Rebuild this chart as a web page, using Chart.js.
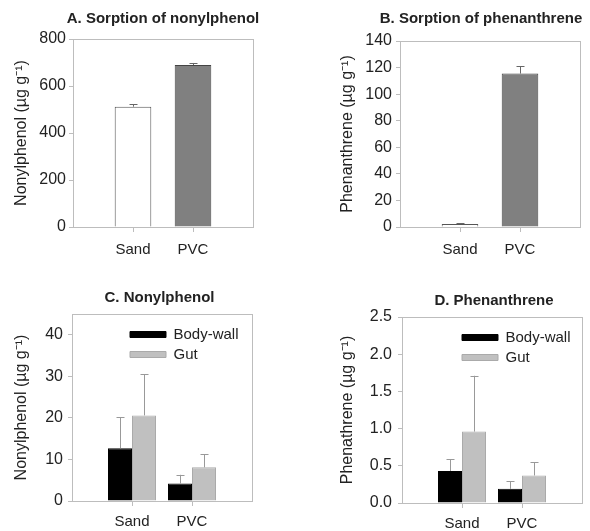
<!DOCTYPE html>
<html>
<head>
<meta charset="utf-8">
<script src="https://cdn.jsdelivr.net/npm/chart.js@4.4.1/dist/chart.umd.min.js"></script>
<style>
    html, body { margin: 0; padding: 0; background: #fff; }
    #wrap { position: relative; width: 590px; height: 531px; overflow: hidden; }
    #wrap canvas { position: absolute; }
</style>
</head>
<body>
<div id="wrap">
    <canvas id="chartA" width="326" height="265" style="left:0px;top:0px"></canvas>
    <canvas id="chartB" width="302" height="265" style="left:330px;top:0px"></canvas>
    <canvas id="chartC" width="319" height="266" style="left:0px;top:265px"></canvas>
    <canvas id="chartD" width="328" height="266" style="left:330px;top:265px"></canvas>
</div>
<script>
// data
const categories = ['Sand', 'PVC'];

const sorptionNP = [512, 689];
const sorptionNPErr = [10, 9];
const sorptionPHE = [2.2, 115.5];
const sorptionPHEErr = [0.6, 5.6];

const npBodyWall = [12.7, 4.2];
const npBodyWallErr = [7.4, 2.1];
const npGut = [20.6, 8.1];
const npGutErr = [9.9, 3.1];

const pheBodyWall = [0.43, 0.19];
const pheBodyWallErr = [0.16, 0.10];
const pheGut = [0.96, 0.37];
const pheGutErr = [0.75, 0.18];

const ticksA = [0, 200, 400, 600, 800];
const ticksB = [0, 20, 40, 60, 80, 100, 120, 140];
const ticksC = [0, 10, 20, 30, 40];
const ticksD = [0, 0.5, 1.0, 1.5, 2.0, 2.5];

const FONT = '"Liberation Sans", Arial, Helvetica, sans-serif';
const AXIS_GREY = '#bdbdbd';
const TEXT = '#222';

// empty slot on each side puts the two groups at 1/3 and 2/3 of the frame
const pad = arr => [null, ...arr, null];
const xLabels = ['', ...categories, ''];

// frame around the plot area
const framePlugin = {
    id: 'frame',
    afterDraw(chart) {
        const a = chart.chartArea, ctx = chart.ctx;
        ctx.save();
        ctx.strokeStyle = AXIS_GREY;
        ctx.lineWidth = 1;
        ctx.strokeRect(Math.round(a.left) + 0.5, Math.round(a.top) + 0.5,
            Math.round(a.right - a.left), Math.round(a.bottom - a.top));
        ctx.restore();
    }
};

// upward error bars with a cap
const errorBarPlugin = {
    id: 'errorBars',
    afterDatasetsDraw(chart, args, opts) {
        const ctx = chart.ctx, yScale = chart.scales.y;
        chart.data.datasets.forEach((ds, di) => {
            if (!ds.errors) return;
            const meta = chart.getDatasetMeta(di);
            meta.data.forEach((bar, i) => {
                const v = ds.data[i];
                if (v === null || v === undefined) return;
                const x = Math.round(bar.x) + 0.5;
                const yTop = yScale.getPixelForValue(v + ds.errors[i]);
                ctx.save();
                ctx.strokeStyle = opts.color;
                ctx.lineWidth = 1;
                ctx.beginPath();
                ctx.moveTo(x, bar.y);
                ctx.lineTo(x, yTop);
                ctx.moveTo(x - 4, Math.round(yTop) + 0.5);
                ctx.lineTo(x + 4, Math.round(yTop) + 0.5);
                ctx.stroke();
                ctx.restore();
            });
        });
    }
};

// move the in-frame legend to the upper right
const legendPlacePlugin = {
    id: 'legendPlace',
    afterLayout(chart, args, opts) {
        if (!chart.legend || !opts.dx) return;
        chart.legend.left = chart.chartArea.left + opts.dx;
        chart.legend.top = chart.chartArea.top + opts.dy;
    }
};

function makeChart(id, p) {
    return new Chart(document.getElementById(id), {
        type: 'bar',
        data: { labels: xLabels, datasets: p.datasets },
        options: {
            responsive: false,
            animation: false,
            layout: { padding: 0 },
            datasets: { bar: { categoryPercentage: p.catPct, barPercentage: p.barPct, borderWidth: 1 } },
            plugins: {
                title: {
                    display: true, text: p.title, color: TEXT,
                    font: { family: FONT, size: 15, weight: 'bold' },
                    padding: { top: p.titleTop, bottom: p.titleBottom }
                },
                legend: p.legend ? {
                    display: true, position: 'chartArea', align: 'start',
                    labels: {
                        boxWidth: 36, boxHeight: 6, padding: 5, color: TEXT,
                        font: { family: FONT, size: 15 }
                    }
                } : { display: false },
                tooltip: { enabled: false },
                errorBars: { color: p.errColor },
                legendPlace: { dx: p.legendDx, dy: p.legendDy }
            },
            scales: {
                x: {
                    offset: false,
                    grid: {
                        display: true, offset: false, drawOnChartArea: false, drawTicks: true, tickLength: 5,
                        tickColor: c => (c.tick && c.tick.label) ? AXIS_GREY : 'rgba(0,0,0,0)'
                    },
                    border: { display: true, color: AXIS_GREY },
                    ticks: {
                        autoSkip: false, maxRotation: 0, padding: p.xPad, color: TEXT,
                        font: { family: FONT, size: 15 }
                    },
                    afterFit: s => { s.height = p.xHeight; }
                },
                y: {
                    min: 0, max: p.yMax,
                    grid: { display: true, drawOnChartArea: false, tickLength: 4, tickColor: AXIS_GREY },
                    border: { display: true, color: AXIS_GREY },
                    ticks: {
                        padding: p.yPad, color: TEXT,
                        font: { family: FONT, size: 16 },
                        callback: v => p.decimals ? Number(v).toFixed(p.decimals) : v
                    },
                    afterBuildTicks: s => { s.ticks = p.ticks.map(v => ({ value: v })); },
                    title: {
                        display: true, text: p.yTitle, color: TEXT,
                        font: { family: FONT, size: 16 },
                        padding: { top: p.yTitlePad, bottom: 0 }
                    },
                    afterFit: s => { s.width = p.yWidth; }
                },
                // empty right-hand spacer so the title centres over the frame
                spacer: {
                    type: 'linear', position: 'right', display: true,
                    grid: { display: false }, border: { display: false },
                    ticks: { display: false },
                    afterFit: s => { s.width = p.rightPad; }
                }
            }
        },
        plugins: [framePlugin, errorBarPlugin, legendPlacePlugin]
    });
}

// A. Sorption of nonylphenol
makeChart('chartA', {
    title: 'A. Sorption of nonylphenol', titleTop: 10, titleBottom: 11,
    yTitle: 'Nonylphenol (µg g⁻¹)', yTitlePad: 12, yWidth: 73, yPad: 3,
    yMax: 800, ticks: ticksA, xHeight: 38, xPad: 9, rightPad: 73,
    catPct: 1, barPct: 0.61, errColor: '#666',
    datasets: [{
        data: pad(sorptionNP), errors: pad(sorptionNPErr),
        backgroundColor: ['#fff', '#ffffff', '#808080', '#fff'],
        borderColor: ['#555', '#555', '#444', '#555']
    }]
});

// B. Sorption of phenanthrene
makeChart('chartB', {
    title: 'B. Sorption of phenanthrene', titleTop: 10, titleBottom: 13,
    yTitle: 'Phenanthrene (µg g⁻¹)', yTitlePad: 8, yWidth: 70, yPad: 4,
    yMax: 140, ticks: ticksB, xHeight: 38, xPad: 9, rightPad: 52,
    catPct: 1, barPct: 0.61, errColor: '#666',
    datasets: [{
        data: pad(sorptionPHE), errors: pad(sorptionPHEErr),
        backgroundColor: ['#fff', '#ffffff', '#808080', '#fff'],
        borderColor: ['#555', '#555', '#444', '#555']
    }]
});

// C. Nonylphenol in worm tissue
makeChart('chartC', {
    title: 'C. Nonylphenol', titleTop: 24, titleBottom: 7,
    yTitle: 'Nonylphenol (µg g⁻¹)', yTitlePad: 12, yWidth: 72, yPad: 5,
    yMax: 45, ticks: ticksC, xHeight: 30, xPad: 7, rightPad: 67,
    catPct: 0.8, barPct: 1, errColor: '#999',
    legend: true, legendDx: 53, legendDy: 8,
    datasets: [
        { label: 'Body-wall', data: pad(npBodyWall), errors: pad(npBodyWallErr),
          backgroundColor: '#000', borderColor: '#000' },
        { label: 'Gut', data: pad(npGut), errors: pad(npGutErr),
          backgroundColor: '#c0c0c0', borderColor: '#aaa' }
    ]
});

// D. Phenanthrene in worm tissue
makeChart('chartD', {
    title: 'D. Phenanthrene', titleTop: 27, titleBottom: 7,
    yTitle: 'Phenathrene (µg g⁻¹)', yTitlePad: 8, yWidth: 72, yPad: 6,
    yMax: 2.5, ticks: ticksD, decimals: 1, xHeight: 28, xPad: 7, rightPad: 76,
    catPct: 0.8, barPct: 1, errColor: '#999',
    legend: true, legendDx: 55, legendDy: 8,
    datasets: [
        { label: 'Body-wall', data: pad(pheBodyWall), errors: pad(pheBodyWallErr),
          backgroundColor: '#000', borderColor: '#000' },
        { label: 'Gut', data: pad(pheGut), errors: pad(pheGutErr),
          backgroundColor: '#c0c0c0', borderColor: '#aaa' }
    ]
});
</script>
</body>
</html>
